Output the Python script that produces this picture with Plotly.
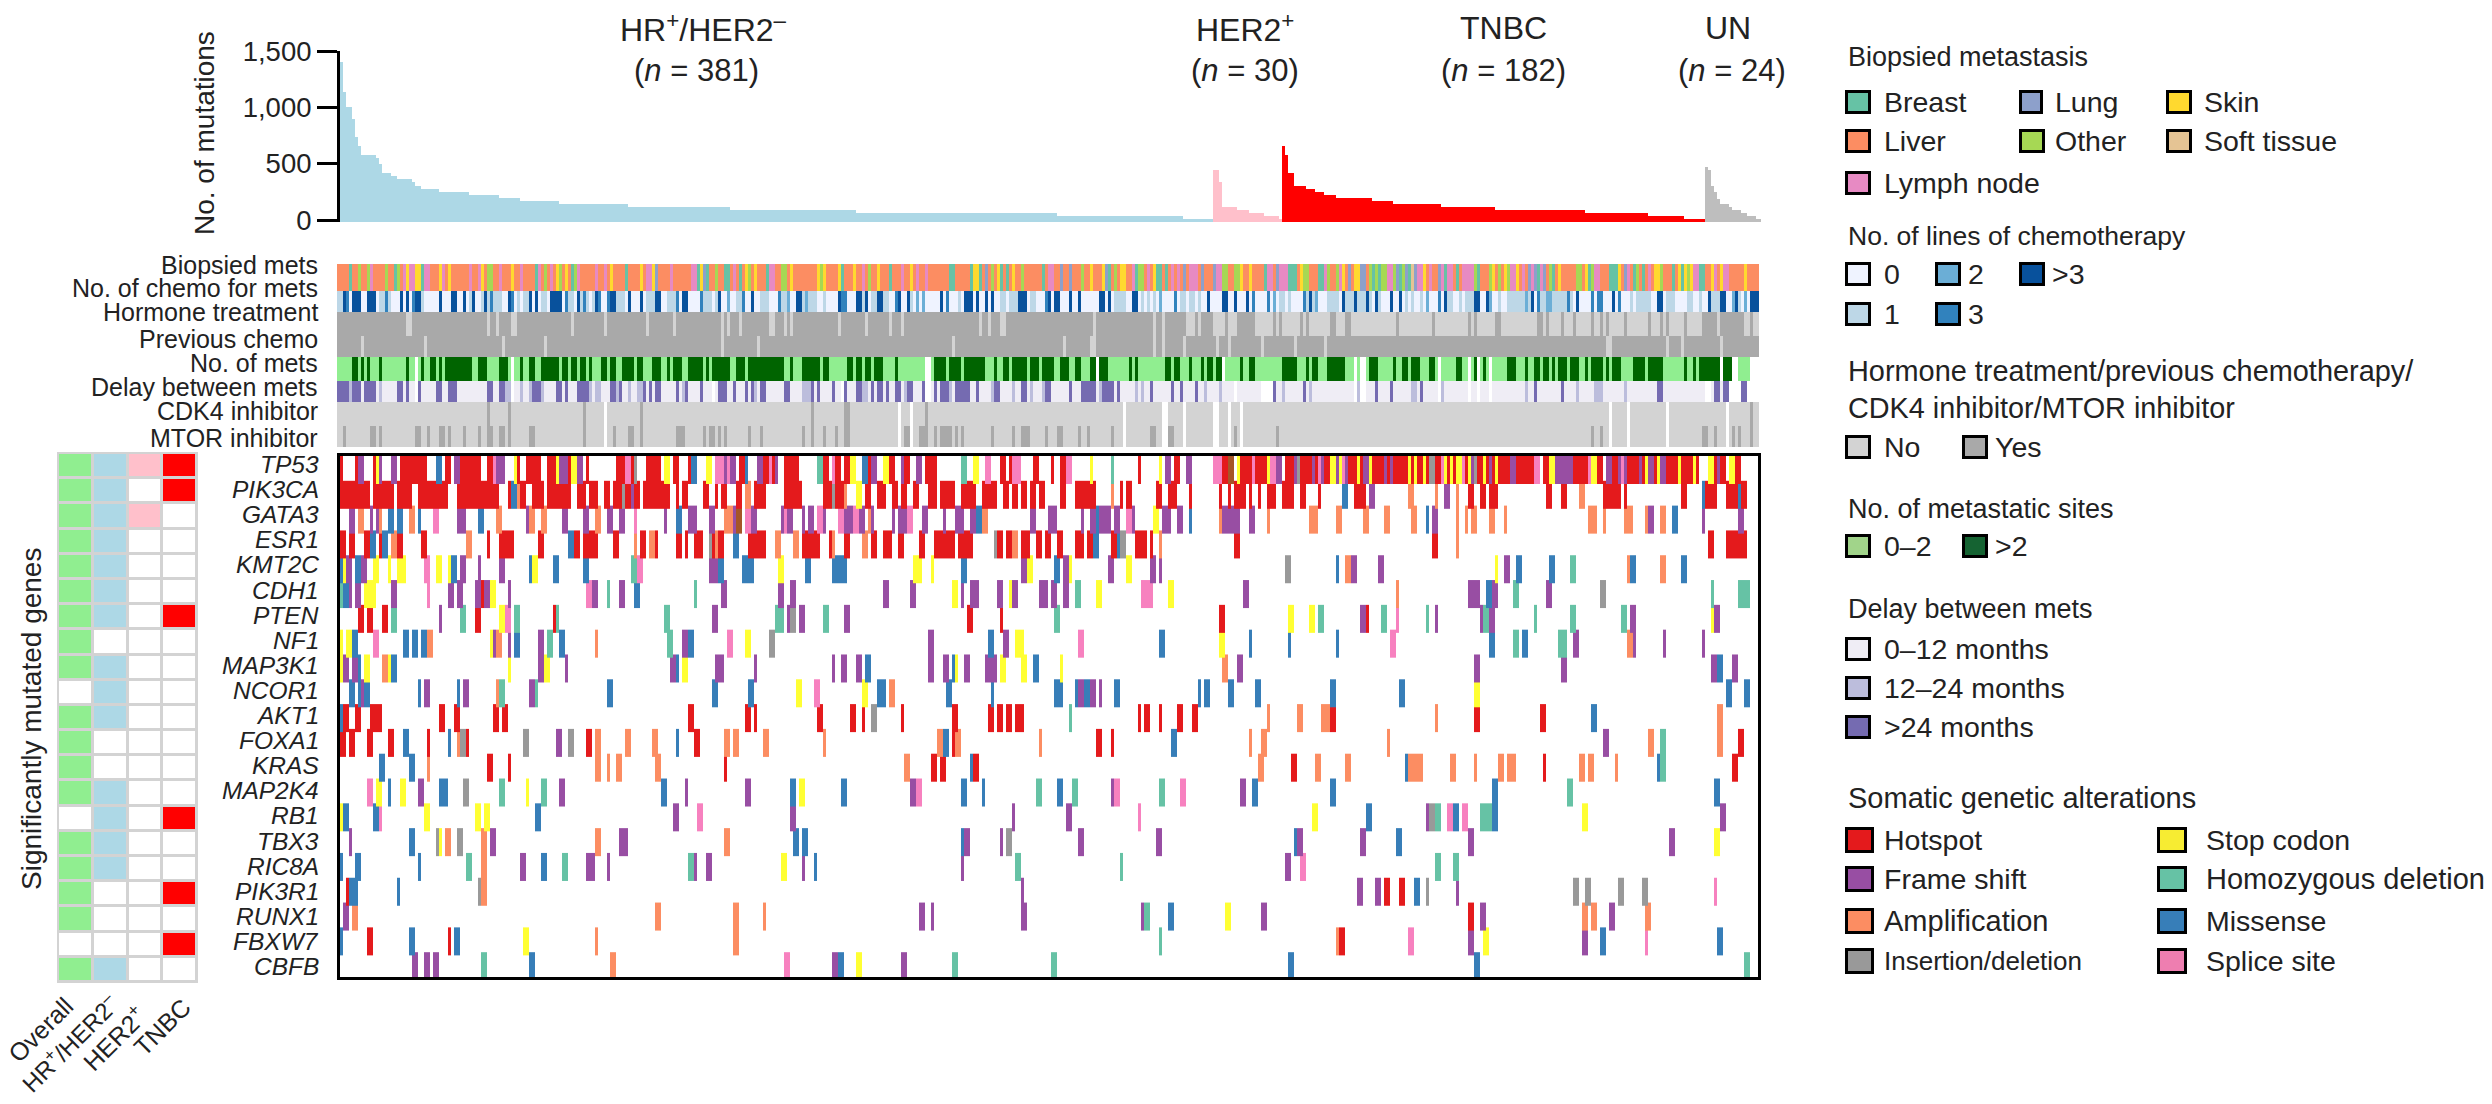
import plotly.graph_objects as go

W, H = 2492, 1104

# ---------- mutation burden: (value, number of drawn columns) ----------
HR_RUNS = [(1403,1),(1140,1),(1000,2),(894,1),(741,1),(658,1),(578,5),(550,1),(498,1),(420,3),(390,2),(365,5),(340,1),(302,2),(275,6),(250,10),(222,10),(196,7),(170,13),(144,23),(116,34),(89,42),(63,67),(36,42),(10,10)]
HER2_RUNS = [(444,2),(338,1),(116,5),(89,4),(63,5),(36,5),(10,1)]
TNBC_RUNS = [(658,1),(578,1),(418,2),(302,4),(275,3),(250,3),(222,4),(196,12),(170,7),(144,16),(116,18),(89,30),(63,21),(36,12),(10,7)]
UN_RUNS = [(471,1),(444,1),(308,1),(252,1),(187,1),(144,3),(116,1),(89,3),(63,2),(36,3),(10,2)]
GROUP_COLORS = ["#ADD8E6", "#FFC0CB", "#FF0000", "#BEBEBE"]
GROUP_TITLES = ["HR<sup>+</sup>/HER2<sup>–</sup>", "HER2<sup>+</sup>", "TNBC", "UN"]
GROUP_NS = ["(<i>n</i> = 381)", "(<i>n</i> = 30)", "(<i>n</i> = 182)", "(<i>n</i> = 24)"]
Y_TICKS = [0, 500, 1000, 1500]
Y_TICK_LABELS = ["0", "500", "1,000", "1,500"]

# ---------- clinical tracks (code + column range, in drawn columns) ----------
BIOPSY = ("R4 O7 O10 N11 O16 R19 O20 N22 K23 N24-25 K26-27 R28 N29-30 K34 N35 K37 N44 N47 K48 O50-51 N54 K58 N61 R66 N67 O69 N71 K73 O74 K76 R78 O79 N80 N86 N89 K91 R96 K101 N103-104 K105 U106 N111 N118-119 R120 K121 U122 R123 O126 R129-130 N132 R134 K136 O137 K139 R143 N144-145 O148-149 K151 "
          "K160 O161 K162 K167 R168 K172 N175 O177 K180 R184 N188 K191 N193 N196 R204-205 R211 K212-213 R214 U216 O218 K220 R221 R223 K225 O228 R235 N237-238 U241 U244 O248 K251 K255 U256 R257 O259 K261-262 N265 R266 O267-268 N270 K272 R273-274 R276 N278 N280 U282 N284-286 U288 U292 N293-294 O295-296 O299-300 K301 K304 R309 N310-311 U313 N314-315 "
          "N316 R317-319 K321 O322-323 R327-328 N329 O330 O333 N334 K335 U337 K339-340 U341-342 O344 R345 O346 R347 O348-349 N350-351 O352 U353 R354 O355 U356 R357 T358 U359 N360-361 K362 N364 U367 N368 R369 N370-371 R373 N375-378 O379 R380 O384 K385 O387 K389 O390 N391-392 K393 N395 U397 N398 U399 R400 N401 U402 O404 R405 K407 O413-414 K416 R417 O418 N419-420 R424-426 K427 U429 N430 R432 O433 R435 N437 K439-440 O441 R445 K447 R448 K449 O450 K451 N452-453 R454-455 K458 N459 K461 N462-463 K469")
CHEMO = ("a0-1 d2 c3 d5-7 d10-12 a14-15 c16 a17 d21 d23 c25 d26-27 a28 d34 d38-39 d42 a44 d45 a48 d49 a50 c51 a52-54 d57 c58 a60 a62-63 d64 d66 a68-69 d71-74 c76 a77-78 d80 a81 c82 a83 a85 d86 c87 c90 d91-92 a93-95 d97 d101 a103-105 d106-107 a110-112 c113 d115-116 c121 a122-124 a126 d127 b130 a133-134 c135 d138 a141-143 c147 a148-149 b150 d153-154 a155 b156 a157-158 "
         "a159 a162 d167 c168-169 d173-174 a175 d176 a178-179 d180-181 a182-183 c186 d187 d190 a191 b193 b195 d201 c203 a207 d209-211 d213 d216 d218 a221-222 a224-226 d227-229 a231-232 c236 d237 d239-240 d244 d247 d254-255 d257 a259-262 d265-266 a268 a270 a272 b274 c279 a281-282 a284-285 a287 d290 d295-296 d299 d303 c305 c310 b312 a314-315 "
         "a317 c322 a323 d324 a325 b326 a330-333 d335 a336-338 d339 a340-342 d343 a344 d346 a347 d351 d354 a356 a358 a361 b363 c367 d369 a370-371 a374 a376-378 d379-380 d383 b384 a387 a390-395 b396 a397 d398 c400 a401-402 b403-404 a405-409 c410 a411 d413 c418 c420-421 d425 c427 a431 a433-435 a436-437 d440-441 a443-445 a450-451 a454 d457 a458-460 d461-462 b465 d466 a467 b469 d471-473")
HORMONE_NO = "n23-24 n50 n53 n58-59 n78 n89 n103 n112 n128 n130 n134 n144-145 n149 n151 n167 n176 n184 n188 n214 n217 n221-222 n252 n272 n275 n283-285 n287 n292-295 n297-299 n306-311 n313 n315"
HORMONE_LATE_YES = "y321 y323 y331-332 y336-337 y353 y365 y377 y379 y386-387 y400-401 y403 y408 y412 y418 y421 y423 y429 y437 y441 y443 y449 y455-459 y461-468 y471"
PREV_CHEMO_NO = "n8 n29 n55 n69 n128 n140 n205 n242 n251-252 n272 n275 n282 n293 n297 n308 n319 n329 n423-424 n443 n448 n461"
METS = ("d5-6 d8 d10 d14 d23 w26 d28 d31-32 d34 d36-44 d47-49 d54-56 w58 d61 d64-65 d68-73 d75-76 d78-79 d81-82 d84 d88-89 d91-92 d95-98 d100-101 d105-107 d110 d112-114 d117-121 d123 d125-130 d133-135 d137-148 d151 d155-160 "
        "d162-163 d170-171 d173-174 d176-177 d179-181 d186 w196-197 d199-201 d202 d204-207 d209-215 d219 d222-223 d225-229 d231-233 d235-238 d241-243 d246-247 d251-252 w253 d254-256 d264 d266 d276-277 d279-280 d284 d288 d290-291 d293-294 w295 d301 d304-305 d315-319 "
        "d323 d325-326 d330-335 w339 w341-342 d344-346 d352 d355-356 d358-360 d364-365 w367 d373-374 w377 d379 w380 d382 w384 d390-392 d396 d399-400 d402-403 d405 d407-409 d411-413 d416 d418-421 d423 d425-427 d432-435 d437-441 d449 d452 d454-460 w461 d462-464 w465-466 w471-473")
DELAY = ("c0-3 b4 c5-7 c9-12 b14 c20-21 c23 w26 c27 c33-34 c37-39 c50-51 c54-55 b56-57 w58 b61 b64 c65-67 b68 c73-74 c76 c80-83 b84 b86-87 c91-92 b93 c94 b97 b100-101 c102 c104 c106-107 c113 b115 c116 c121 w125 c127-129 c132 c136 c138 b139 c141-142 c149-150 b155-157 c158 "
         "c160 c165 w168 c169 c173-174 b175-176 c178 c180-181 c183 c186-187 b189 c190-191 c195 w196-197 c199 c201-203 b204 c206-210 c213 b218 c219-220 b225 c228-229 b231 b235 c236-237 c244 c248-250 c251-252 b254 c255-258 c260 b266 b268 c271 c278 c281 c286 b289 b294 w299 w308-311 c312 b315 "
         "c322 b324 w339 b340 w341-342 c346 c351 b358-359 c361 w367 b368 w377 w380 w384 b396 c399 c408 b413 b419-421 b429 c440-441 w456-457 c459-460 c462-463 w464-467 c468-469 w470-473")
CDK4 = "y50 y57 y82 w89 y101 y158 y169-170 w187 w191 y196 w262 w275-276 w282 w292-293 w297 w301 w424 w430 w443 w463 y471"
MTOR = ("y2 y11-12 y14 y26-27 y30 y34-35 y37 y42 y47 y50-51 y54-55 y57 y64-65 y82 w89 y92 y97-98 y101 y113-115 y122 y124-125 y127 y129 y137 y141 y155 y158 y162 y166 y169-170 w187 y189-190 w191 y194-196 y199 y201-203 y204 y206 y208 y218 y225 y228-230 y236 y240-241 y247 y250 y258 w262 y271-272 w275-276 y277-278 w282 w292-293 w297 y299 w301 y313 "
        "y418 y421 w424 w430 w443 y455-456 y459 w463 y465 y467 y471")
TRACK_LABELS = ["Biopsied mets", "No. of chemo for mets", "Hormone treatment", "Previous chemo", "No. of mets", "Delay between mets", "CDK4 inhibitor", "MTOR inhibitor"]

# ---------- oncoprint: one string per gene (alteration code + column range) ----------
TP53 = ("H0 H5 F6-7 H11 S12 F13 F17-18 H20-28 M32-33 H35-36 F38-39 H40-46 H49-50 P51 F52-54 S58 H59 H62-66 H69-71 S72 F73-75 H76 S77-78 F79-80 H82 H92-94 P95-96 H97 I98 H102-106 S108-109 H111-112 H116 M117-118 S122-123 P125-127 F128 P129 F130-131 H133-134 M135 F139-140 H141-142 P143 H144 F145 H148-152 "
        "D159-160 H161-162 P164 H165-166 H168-169 S170-171 M174-175 H176 F177-178 S181-182 H183-184 F187 H188-189 F192-193 H195-198 D207-208 S211-212 P215-216 H220-221 H223 P224-226 H231-232 H237 H240-241 P242-243 S250 D257 H266 S273 F275-276 H278-279 F282-283 P291-293 H294-295 B296-297 S299 H300-303 P304 H305-308 S309 P310-311 F312-313 "
        "H315-317 F318 I319 H320-323 F324 H325 P326 F327 H328-329 S330-331 F332 S333 P334 F335 H336-338 S339 H340 F341-342 S343 H344-347 F348 H349 F350 H351-355 S356 H357 S358 H359-360 S361 H362 I363-364 H365-366 P367 S368 H369 S370 H371 S372-373 P374 H375 S376 F377 I378 H379-380 S381 H382 F383 H384 S385 H386-389 F390-391 H392-397 P398-399 H401-402 S403-404 F405-410 H411-415 P416 S417-418 H419-420 F422-423 H424-425 F426 P427 F428 H429-432 F433 H434 S435 F436-437 H438 S439 F440-441 H442-445 S446 H447-450 S451 H452 S456-457 H458 F459 H460-461 S463-464 H465-466")
PIK3CA = ("H0-9 H11-17 H19-23 H26-35 H39-52 H56 M57-58 A59 H60-61 H64-67 H69-76 H79-81 H83-85 H88-89 H91-93 I94 H95-96 F97 H98-99 H101-109 H112 H114-115 H121-122 H125 H127-128 H132-133 A135-136 H138-141 H148-153 "
          "H161-163 I164 H165-167 A168 S172-173 H175-176 H179-181 H184-185 H187-188 H191-192 H196-198 H200-204 H207-211 H214-218 H221-222 H224-225 H227-228 H230-231 H233-234 H240-241 H245-251 A257 H260 H262-263 H272-273 H276-278 H283 H293 H296 H298-301 H303 H306 H309-311 H314-317 "
          "H320-321 H326 M334-335 H338-341 F343-344 A356-357 A365 F368-369 A372 H376-377 H380-381 H383-385 H402-403 H407-408 A413-414 H421-426 H428 H447-448 M454 H455-458 H462-465 M466 H467-468")
GATA3 = ("F3-4 A6-7 F10 F12 A13 M16-17 M19-20 A23-24 M26 P31-32 F39-41 M46-47 A52-53 F62 A63-64 A67-68 F74-75 F81-82 A85-86 F89-90 F93-94 P98 F108 M112-113 F116-118 F123-124 A128-130 F131 B132-133 P135-136 F137-138 F147 P148 F149-150 F154 F156-157 "
         "P159-160 F161 P166-167 F168-170 P171-172 F173-174 A176 F177 F184 F186-188 P189-190 F194-195 F201 F205-207 F210-211 M212-213 A214-215 F230-231 F236-238 F247 F250-251 M252 F253-256 F258-259 P262-263 F264 S271-272 F274-276 F279-280 M283 A293 F294-299 F303-304 A309 "
         "A323-325 A332-333 A341-342 A348-349 A357-358 M362 F364-365 A372 A375 A377-378 A383-384 A388 A416-417 A418 A421 A428-430 A435 F436-437 A440-441 M444-445 F454 F466-467")
ESR1 = ("H0-1 H3-4 H8-9 M10-11 H13 M14-15 A17-18 H19-20 H27-28 A42-43 H49 H53-57 H66-67 M76-77 H78-79 H81-85 H91-92 A98 H100-101 A103-104 H105 H112-113 H115 H118-120 I123 H124 A125 H126-127 M131-132 H136-141 A145-146 A151-152 H154-159 "
        "H163 A164 H168-169 A174-175 H177-178 H181-183 H186-187 H193-194 H198-204 H206-210 I218 H219-220 H222-223 A224-225 H227-229 H232-233 H235-236 H239-240 H245-247 H249-250 M251-252 H257-258 M259 I260-261 H265-268 H270 A273 H298-299 "
        "H364-365 A372 H456-457 H462-468")
KMT2C = ("M0 S1 F2-3 M5-6 F7-8 S11-12 S16 S19-21 P28-29 S32-33 S36 M37-38 F40-41 F46 F53-54 M63 S64-65 M71-72 M81-82 D97-98 P99-100 F123-125 M126-127 M134-137 S146-147 M155-156 "
         "M164-168 S191-193 S197 M207-208 F227-228 S229-230 M238-239 F241-242 S243 F256-257 S262-263 F270-271 F273 I315-316 "
         "M332 A335-336 F337-338 F346-347 S385 F388-389 M392-393 M403-404 D410-411 A429 M430-431 A440-441 M447-448")
CDH1 = ("D0 M1-2 F3 F5-6 S8-11 F17-18 P29 F36-37 F39-40 F45-46 H47 F48-49 S50-51 F56 P82-83 F84-85 D89 F93-94 M98-99 D118 F127-128 F146-147 F150-151 "
        "F181-182 F190-191 S204-205 F207 F210-212 F219-220 S223 F224-225 F233-235 F237-238 F241-242 D245-246 S252-253 P267-270 S276-277 F301-302 "
        "A352 F376-379 M382-383 F384-385 D391-392 F402-403 I420-421 D457 D466-469")
PTEN = ("H6-7 H9-10 H14-15 D17-18 F33 D40-41 H45-46 S53-54 P55-56 D58-59 H71 D72 D108-109 F124-125 D145-147 F149 I150-151 F153-154 "
        "D161-162 F168-169 H209-210 H220 D238-239 H293-294 S316-317 S323-324 D326-327 F340-341 H342 D347-348 P352 D362 F365 F380 D381-382 F383-384 D398 D410-411 D427-428 F430-431 S457 F458-459")
NF1 = ("S0 S2-3 M4-5 P11-12 M21-22 M24-25 M27-28 A29-30 S50 F51 A52-53 F56 M58-59 F66-67 D69-70 M73-74 A85 D109-110 F114-115 M116-117 P129-130 S135-136 I143-144 "
       "F196-197 M216-217 F221-222 S225-227 P246-247 M273-274 S293-294 M303 M316 "
       "M332 P350-351 M383-384 D391-392 M394-395 D406-408 F411-412 A429-430 F431 F441 F454")
MAP3K1 = ("S0 F1-2 F4-5 M6 S8-9 A14-15 S16 M17-18 S56 F66-67 S68-69 F75 F110-111 M112 S114-115 F125-127 F138 "
          "F164 F167-168 F172-173 M175-176 F196-197 F201-202 M204 S205 F208-209 F215-218 S220-221 S227-228 M231-232 S240 A294-295 F299-300 "
          "F378-379 F407-408 F457-458 M459-460 F464-465")
NCOR1 = ("M3-4 M6 F7 M8-9 M26 F28-29 M39 F41-42 A52 D53-54 F63-64 D65 M89-90 M124-125 M136-137 S152-153 P158-159 "
         "S174-175 M179-181 A183-184 M202-203 M217 M238 M239-240 M245 F246-247 M248-249 F250-251 F253 M258-259 M286 M288-289 M296-297 M305-306 "
         "M330-331 M353-354 S378-379 M462-463 M468-469")
AKT1 = ("M0 H1-2 H5-6 H10-13 H33-34 H38-39 H51-52 H54-55 H116-117 H135-136 H138 "
        "H159-160 H170-171 H174 I177-178 H187 H204-205 H216-217 H219-220 H222-223 H225-227 D243 H266 H268-269 H273 H279-280 H284-285 A309 "
        "A319-320 A327-329 H330-331 A365 H378-379 H400-401 M417-418 A459-460")
FOXA1 = ("H0-1 H3-4 H9-10 H16-17 M21-22 H29 M36 A39 I40-41 H42 I61-62 F72-73 I76-77 H82-83 A85-86 A95-96 A104-105 M112 H118-119 A128-129 A131-132 A141-142 "
         "A161 A199-200 M201-202 H204 A205-206 A233 H252-253 H257 M277-278 A303 A307-308 "
         "A349 F421-422 A436-437 D440-441 A459-460 H466-467")
KRAS = ("M13-14 M23-24 A29 H49-50 H56 A85-86 A89 A92-93 A105-106 H128 "
        "A188-189 H197-198 H200-201 M210 H211-212 A306-307 "
        "H317-318 A325-326 A335-336 M355 A356-360 A370-371 A378 A386-387 A389-391 H401 A413-414 A416-417 A425 M439 D440-441 H464-465")
MAP2K4 = ("P9-10 S12-13 M16 S20-21 F26-27 M33-35 I41-42 D53-54 S62 D67-68 F73-74 M107-108 F115 F135-136 M150-151 S153-154 "
          "M167-168 F190-191 P192-193 M207-208 M214 D232-233 M239-240 D244-245 F257 P258-259 D273-274 P280-281 F300-301 M304-305 "
          "M330-331 M384-385 D409-410 M458-459")
RB1 = ("S0 M1-2 M11-12 P13 S28-29 S45-46 S48-49 M65-66 F111-112 P119-120 F150-151 "
       "F224 F242-243 P266 "
       "S324-325 M342-343 F362 I363-364 D365-366 P369-370 M371-372 P374-375 D380-383 M384-385 S414-415 F460-461")
TBX3 = ("F3 M23-24 I32 S33 A35-36 I39-40 A47-48 F50-51 A85-86 F93-95 A128-129 M151-152 M154-155 "
        "M207 F208-209 F220 I222-223 F246-247 F272-273 "
        "M318 F319-320 F340-341 M352-353 F376-377 F443-444 S458-459")
RIC8A = ("M0 M5-6 M26 D42-43 A47-48 F60-61 M67-68 D74-75 F82-84 F89 D116-117 F118 F122-123 S147-148 F154 M158 "
         "F207 D225-226 D260 F315-316 "
         "P320-321 D365-366 D371-372")
PIK3R1 = ("H2 M3-5 M19 I46 A47-48 F227 "
          "F339-340 F345-346 H348-349 H353-354 M358-359 I362 F372 I411-412 I415-416 I426-427 I434-435 P458")
RUNX1 = ("F1-2 A4-5 A105-106 A131-132 A141 "
         "F193-194 F197 F227-228 F267 D268-269 M276-277 S295-296 F307-308 "
         "H376-377 F380-381 A414-415 A417-418 F423-424 A435-436")
FBXW7 = ("M0 H9-10 M23-24 H36 M38-39 S61-62 A85 A131-132 D273 "
         "A332 H333-334 P356-357 F376-377 S381-382 F414-415 M420-421 P435 M459-460")
CBFB = ("F24-25 F28-29 F31-32 D47-48 M63-64 A90-91 P148-149 "
        "F164-165 M166-167 S172-173 F187-188 D204-205 D237-238 M316-317 "
        "M378-379 D468-469")
GENES = ["TP53","PIK3CA","GATA3","ESR1","KMT2C","CDH1","PTEN","NF1","MAP3K1","NCOR1","AKT1","FOXA1","KRAS","MAP2K4","RB1","TBX3","RIC8A","PIK3R1","RUNX1","FBXW7","CBFB"]
GENE_EVENTS = [TP53,PIK3CA,GATA3,ESR1,KMT2C,CDH1,PTEN,NF1,MAP3K1,NCOR1,AKT1,FOXA1,KRAS,MAP2K4,RB1,TBX3,RIC8A,PIK3R1,RUNX1,FBXW7,CBFB]

# significance panel: Overall, HR+/HER2-, HER2+, TNBC
SIG_COLUMNS = ["Overall", "HR<sup>+</sup>/HER2<sup>–</sup>", "HER2<sup>+</sup>", "TNBC"]
SIG_MATRIX = [[1,1,1,1],[1,1,0,1],[1,1,1,0],[1,1,0,0],[1,1,0,0],[1,1,0,0],[1,1,0,1],[1,0,0,0],[1,1,0,0],[0,1,0,0],[1,1,0,0],
              [1,0,0,0],[1,0,0,0],[1,1,0,0],[0,1,0,1],[1,1,0,0],[1,1,0,0],[1,0,0,1],[1,0,0,0],[0,0,0,1],[1,1,0,0]]

# ---------- palettes ----------
ALT = {"H":"#E41A1C","F":"#984EA3","A":"#FC8D62","I":"#999999","S":"#FFFF33","D":"#66C2A5","M":"#377EB8","P":"#F781BF","B":"#A65628"}
BIO = {"R":"#66C2A5","U":"#8DA0CB","K":"#FFD92F","L":"#FC8D62","O":"#A6D854","T":"#E5C494","N":"#E78AC3"}
CH = {"0":"#EFF3FF","a":"#BDD7E7","b":"#6BAED6","c":"#3182BD","d":"#08519C"}
YN = {"n":"#D3D3D3","y":"#A9A9A9"}
ME = {"l":"#90EE90","d":"#006400"}
DL = {"0":"#EFEDF5","b":"#BCBDDC","c":"#756BB1"}
TEXT = "#222222"
FONT = "Liberation Sans, Arial, sans-serif"

def expand(events, n, base=None):
    out = [base] * n
    for tok in events.split():
        code, rng = tok[0], tok[1:]
        a, _, b = rng.partition("-")
        a = int(a); b = int(b) if b else a
        for i in range(a, min(b, n - 1) + 1):
            out[i] = code
    return out

def runs(rr):
    return [v for v, c in rr for _ in range(c)]

def px(x): return x / W
def py(y): return 1 - y / H

fig = go.Figure()

def strip(codes, y0, y1, palette, xa, ya, x0=0):
    keys = list(palette)
    n = len(keys)
    scale = []
    for i, k in enumerate(keys):
        scale += [[i / n, palette[k]], [(i + 1) / n, palette[k]]]
    z = [[keys.index(c) if c in palette else None for c in codes]]
    fig.add_trace(go.Heatmap(z=z, x=[x0 + i for i in range(len(codes) + 1)], y=[y0, y1], zmin=-0.5, zmax=n - 0.5,
                             colorscale=scale, showscale=False, hoverinfo="skip", xaxis=xa, yaxis=ya))

# bars
start = 0
for rr, col in zip([HR_RUNS, HER2_RUNS, TNBC_RUNS, UN_RUNS], GROUP_COLORS):
    vals = runs(rr)
    fig.add_trace(go.Bar(x=[start + i + 0.5 for i in range(len(vals))], y=[v + 15 for v in vals], base=-15, width=1,
                         marker=dict(color=col, line=dict(width=0)), hoverinfo="skip", xaxis="x", yaxis="y"))
    start += len(vals)

# tracks
NT = 474
tr_edges = [0, 27, 48, 72, 93, 117, 138, 162, 183]
hormone = expand(HORMONE_NO, NT, "y")
late = expand(HORMONE_LATE_YES, NT, "n")
hormone = hormone[:316] + late[316:]
tracks = [
    (expand(BIOPSY, NT, "L"), BIO),
    (expand(CHEMO, NT, "0"), CH),
    (hormone, YN),
    (expand(PREV_CHEMO_NO, NT, "y"), YN),
    (expand(METS, NT, "l"), ME),
    (expand(DELAY, NT, "0"), DL),
    (expand(CDK4, NT, "n"), YN),
    (expand(MTOR, NT, "n"), YN),
]
for i, (codes, pal) in enumerate(tracks):
    strip(codes, tr_edges[i], tr_edges[i + 1], pal, "x2", "y2")

# oncoprint: drawn bottom row first so upper rows overlap slightly, as in the original
for i in range(len(GENES) - 1, -1, -1):
    strip(expand(GENE_EVENTS[i], 473), i, i + 1.12, ALT, "x3", "y3")

# significance
sig_cols = ["#FFFFFF", "#90EE90", "#ADD8E6", "#FFC0CB", "#FF0000"]
scale = []
for i, c in enumerate(sig_cols):
    scale += [[i / 5, c], [(i + 1) / 5, c]]
fig.add_trace(go.Heatmap(z=[[v * (j + 1) for j, v in enumerate(r)] for r in SIG_MATRIX], zmin=-0.5, zmax=4.5, colorscale=scale,
                         showscale=False, xgap=3, ygap=3, hoverinfo="skip", xaxis="x4", yaxis="y4"))

# invisible overlay axes in window pixels: texts are placed on them
fig.add_trace(go.Scatter(x=[0], y=[0], mode="markers", marker=dict(opacity=0, size=1), hoverinfo="skip", xaxis="x5", yaxis="y5"))

def ann(text, x, y, size=28, xanchor="left", yanchor="middle", angle=0):
    fig.add_annotation(text=text, x=x, y=y, xref="x5", yref="y5", showarrow=False, xanchor=xanchor, yanchor=yanchor,
                       textangle=angle, font=dict(family=FONT, size=size, color=TEXT), borderpad=0, borderwidth=0)

# titles
for t, n_, cx, cxn in zip(GROUP_TITLES, GROUP_NS, [703, 1245, 1503, 1728], [696, 1245, 1503, 1732]):
    ann(t, cx, 28, 32, "center")
    ann(n_, cxn, 70, 31, "center")
ann("No. of mutations", 204, 133, 28, "center", "middle", -90)
ann("Significantly mutated genes", 31, 719, 28, "center", "middle", -90)
for lab, yc in zip(TRACK_LABELS, [265, 288, 312, 339, 363, 387, 411, 438]):
    ann(lab, 318, yc, 25, "right")
for i, g in enumerate(GENES):
    ann(f"<i>{g}</i>", 319, 464.5 + 25.1 * i, 24.5, "right")
for t, x, y, sz in zip(SIG_COLUMNS, [78, 124, 152, 196], [992, 988, 999, 993], [25, 24, 25, 25]):
    ann(t, x, y, sz, "right", "top", -45)

# legends
shapes = [dict(type="rect", xref="paper", yref="paper", x0=px(57), x1=px(198), y0=py(983), y1=py(452), fillcolor="#D3D3D3", line=dict(width=0), layer="below")]

def swatch(x, y, col, w=26, h=21):
    shapes.append(dict(type="rect", xref="paper", yref="paper", x0=px(x + 1.5), x1=px(x + w - 1.5), y0=py(y + h / 2), y1=py(y - h / 2),
                       fillcolor=col, line=dict(color="black", width=3), layer="above"))

def item(sx, tx, y, col, label, w=26, h=21, size=28.5):
    swatch(sx, y, col, w, h)
    ann(label, tx, y, size)

ann("Biopsied metastasis", 1848, 57, 27)
item(1845, 1884, 102, BIO["R"], "Breast"); item(2019, 2055, 102, BIO["U"], "Lung", 24); item(2166, 2204, 102, BIO["K"], "Skin")
item(1845, 1884, 141, BIO["L"], "Liver"); item(2019, 2055, 141, BIO["O"], "Other"); item(2166, 2204, 141, BIO["T"], "Soft tissue")
item(1845, 1884, 183, BIO["N"], "Lymph node")
ann("No. of lines of chemotherapy", 1848, 236, 26.5)
item(1845, 1884, 274, CH["0"], "0"); item(1935, 1968, 274, CH["b"], "2"); item(2019, 2052, 274, CH["d"], "&gt;3")
item(1845, 1884, 314, CH["a"], "1"); item(1935, 1968, 314, CH["c"], "3")
ann("Hormone treatment/previous chemotherapy/", 1848, 371, 28.9)
ann("CDK4 inhibitor/MTOR inhibitor", 1848, 408, 28.8)
item(1845, 1884, 447, YN["n"], "No"); item(1962, 1995, 447, YN["y"], "Yes")
ann("No. of metastatic sites", 1848, 509, 27)
item(1845, 1884, 546, "#A1D48A", "0–2"); item(1962, 1995, 546, "#156332", "&gt;2")
ann("Delay between mets", 1848, 609, 27)
item(1845, 1884, 649, DL["0"], "0–12 months"); item(1845, 1884, 688, DL["b"], "12–24 months"); item(1845, 1884, 727, DL["c"], "&gt;24 months")
ann("Somatic genetic alterations", 1848, 798, 29)
for lab, col, y, sz in zip(["Hotspot", "Frame shift", "Amplification", "Insertion/deletion"], [ALT["H"], ALT["F"], ALT["A"], ALT["I"]], [840, 879, 921, 961], [28.5, 28.5, 29, 26]):
    item(1845, 1884, y, col, lab, 29, 23, sz)
for lab, col, y, sz in zip(["Stop codon", "Homozygous deletion", "Missense", "Splice site"], ["#F7EC32", ALT["D"], ALT["M"], "#EE7EB0"], [840, 879, 921, 961], [28.5, 29, 28.5, 28.5]):
    item(2157, 2206, y, col, lab, 30, 23, sz)

fig.update_layout(
    width=W, height=H, margin=dict(l=0, r=0, t=0, b=0, pad=0, autoexpand=False), paper_bgcolor="white", plot_bgcolor="rgba(0,0,0,0)",
    showlegend=False, barmode="overlay", bargap=0, shapes=shapes, font=dict(family=FONT, color=TEXT),
    xaxis=dict(domain=[px(340), px(1761)], range=[0, 473.67], visible=False, anchor="y"),
    yaxis=dict(domain=[py(222), py(51)], range=[-15, 1500], anchor="x", showgrid=False, zeroline=False, showline=True, linecolor="black", linewidth=3,
               ticks="outside", ticklen=20, tickwidth=3, tickcolor="black", tickvals=Y_TICKS, ticktext=Y_TICK_LABELS,
               tickfont=dict(size=27.5, family=FONT, color=TEXT)),
    xaxis2=dict(domain=[px(337), px(1761)], range=[0, 474.67], visible=False, anchor="y2"),
    yaxis2=dict(domain=[py(447), py(264)], range=[183, 0], visible=False, anchor="x2"),
    xaxis3=dict(domain=[px(340), px(1758)], range=[0, 472.67], showgrid=False, zeroline=False, showticklabels=False, ticks="", showline=True, mirror=True, linecolor="black", linewidth=3, anchor="y3"),
    yaxis3=dict(domain=[py(977), py(456)], range=[21, 0], showgrid=False, zeroline=False, showticklabels=False, ticks="", showline=True, mirror=True, linecolor="black", linewidth=3, anchor="x3"),
    xaxis4=dict(domain=[px(58), px(197)], range=[-0.5, 3.5], visible=False, anchor="y4"),
    yaxis4=dict(domain=[py(982), py(453)], range=[20.5, -0.5], visible=False, anchor="x4"),
    xaxis5=dict(domain=[0, 1], range=[0, W], visible=False, anchor="y5", fixedrange=True),
    yaxis5=dict(domain=[0, 1], range=[H, 0], visible=False, anchor="x5", fixedrange=True),
)

fig.write_html("out.html", config={"displayModeBar": False}, post_script="document.body.style.margin='0';document.body.style.overflow='hidden';")
